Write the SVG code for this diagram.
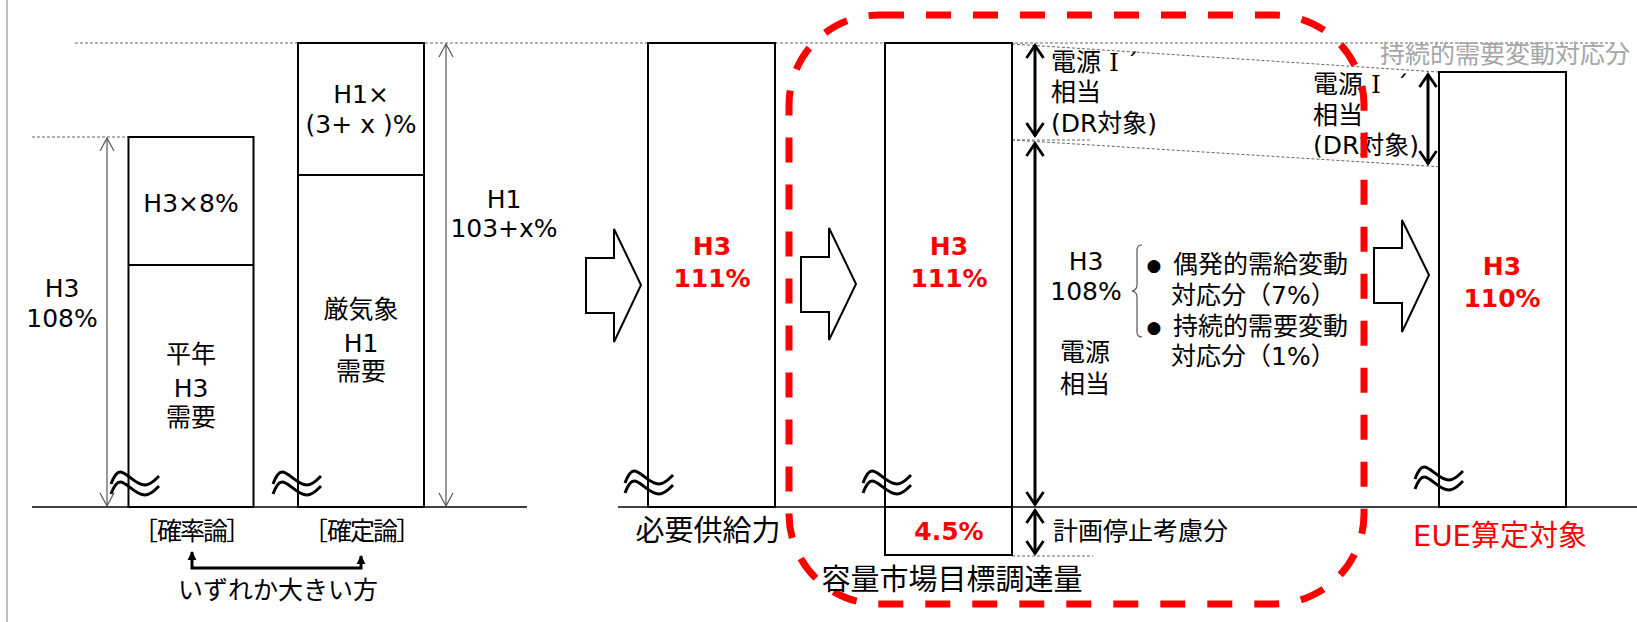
<svg xmlns="http://www.w3.org/2000/svg" xmlns:xlink="http://www.w3.org/1999/xlink" width="1637" height="622" viewBox="0 0 1637 622">
<style>
.t{font-family:"DejaVu Sans","Noto Sans CJK JP",sans-serif;font-size:25px;fill:#000;text-anchor:middle}
.s{text-anchor:start}
.r{fill:#f00;font-weight:bold}
.j{font-family:"Noto Sans CJK JP",sans-serif}
.rn{font-family:"DejaVu Serif","Noto Serif CJK JP","Noto Sans CJK JP",serif}
.big{font-size:29px}
.bul{font-family:"DejaVu Sans",sans-serif;font-size:17px;fill:#000;text-anchor:middle}
.box{fill:#fff;stroke:#000;stroke-width:2}
.dash{stroke:#666;stroke-width:1;stroke-dasharray:3 2;fill:none}
.thin{stroke:#555;stroke-width:1.2;fill:none}
.thick{stroke:#000;stroke-width:3;fill:none}
.blk{fill:#fff;stroke:#000;stroke-width:2;stroke-linejoin:miter}
.base{stroke:#000;stroke-width:1.5}
</style>
<defs>
<marker id="mv" viewBox="0 0 16 16" refX="14" refY="8" markerWidth="16" markerHeight="16" markerUnits="userSpaceOnUse" orient="auto-start-reverse">
<path d="M1,1 L14,8 L1,15" fill="none" stroke="#555" stroke-width="1.2"/>
</marker>
<marker id="mc" viewBox="0 0 16 20" refX="14" refY="10" markerWidth="16" markerHeight="20" markerUnits="userSpaceOnUse" orient="auto-start-reverse">
<path d="M1,1.5 L13.5,10 L1,18.5" fill="none" stroke="#000" stroke-width="2.8"/>
</marker>
<marker id="mf" viewBox="0 0 10 10" refX="9" refY="5" markerWidth="9" markerHeight="10" markerUnits="userSpaceOnUse" orient="auto">
<path d="M0,0 L10,5 L0,10 Z" fill="#000"/>
</marker>
<path id="wv" d="M0,12 C3,4 6,0 9,0 C16,0 24,13 34,13 C40,13 44,8 48,4 M0,22 C3,14 6,10 9,10 C16,10 24,23 34,23 C40,23 44,18 48,14" fill="none" stroke="#000" stroke-width="3"/>
</defs>
<rect width="1637" height="622" fill="#fff"/>
<line x1="7" y1="0" x2="7" y2="622" stroke="#c0c0c0" stroke-width="2"/>

<g id="guides">
<line class="dash" x1="75" y1="43" x2="1613" y2="43"/>
<line class="dash" x1="32" y1="137" x2="128" y2="137"/>
<line class="dash" x1="1012" y1="140" x2="1091" y2="140"/>
<line class="dash" x1="1012" y1="44" x2="1438" y2="72"/>
<line class="dash" x1="1012" y1="140" x2="1443" y2="167"/>
<line class="dash" x1="1012" y1="556" x2="1093" y2="556" stroke-dasharray="2 2"/>
<line class="base" x1="32" y1="507" x2="527" y2="507"/>
<line class="base" x1="618" y1="507" x2="1637" y2="507"/>
</g>

<g id="node-heinen">
<rect class="box" x="128.5" y="137" width="125" height="370"/>
<line x1="128.5" y1="265" x2="253.5" y2="265" stroke="#000" stroke-width="2"/>
<text class="t" x="191" y="212">H3×8%</text>
<text class="t" x="191" y="363">平年</text>
<text class="t" x="191" y="397">H3</text>
<text class="t" x="191" y="426">需要</text>
<use href="#wv" x="111" y="472"/>
</g>

<g id="node-genkisho">
<rect class="box" x="298" y="43" width="126" height="464"/>
<line x1="298" y1="175" x2="424" y2="175" stroke="#000" stroke-width="2"/>
<text class="t" x="361" y="103">H1×</text>
<text class="t" x="361" y="133">(3+ x )%</text>
<text class="t" x="361" y="318">厳気象</text>
<text class="t" x="361" y="352">H1</text>
<text class="t" x="361" y="380">需要</text>
<use href="#wv" x="273" y="472"/>
</g>

<g id="node-left-labels">
<text class="t" x="62" y="297">H3</text>
<text class="t" x="62" y="327">108%</text>
<text class="t" x="504" y="208">H1</text>
<text class="t" x="504" y="237">103+x%</text>
<text class="t s" x="133 157 180 203 226" y="540">［確率論］</text>
<text class="t s" x="303 327 350 373 396" y="540">［確定論］</text>
<text class="t" x="278" y="599">いずれか大きい方</text>
</g>

<g id="node-hitsuyo">
<rect class="box" x="648" y="43" width="127" height="464"/>
<text class="t r" x="712" y="255">H3</text>
<text class="t r" x="712" y="287">111%</text>
<use href="#wv" x="625" y="471"/>
<text class="t big" x="708" y="541">必要供給力</text>
</g>

<g id="node-yoryo">
<rect class="box" x="885" y="43" width="127" height="464"/>
<text class="t r" x="949" y="255">H3</text>
<text class="t r" x="949" y="287">111%</text>
<use href="#wv" x="863" y="471"/>
</g>

<g id="node-keikaku">
<rect class="box" x="885" y="507" width="127" height="48"/>
<text class="t r" x="949" y="540">4.5%</text>
<text class="t s" x="1053" y="540">計画停止考慮分</text>
</g>

<g id="node-dengen">
<text class="t s" x="1051" y="71">電源 <tspan class="rn">Ⅰ</tspan><tspan x="1126">´</tspan></text>
<text class="t s" x="1051" y="101">相当</text>
<text class="t s" x="1051" y="132">(DR対象)</text>
<text class="t" x="1086" y="270">H3</text>
<text class="t" x="1086" y="300">108%</text>
<text class="t" x="1085" y="361">電源</text>
<text class="t" x="1085" y="393">相当</text>
<path d="M1142,245 Q1137,245 1137,250 L1137,285 Q1137,290 1132,291 Q1137,292 1137,297 L1137,332 Q1137,337 1142,337" class="thin"/>
<text class="bul" x="1154" y="271">●</text>
<text class="t s" x="1173" y="273">偶発的需給変動</text>
<text class="t s" x="1171" y="304">対応分（7%）</text>
<text class="bul" x="1154" y="333">●</text>
<text class="t s" x="1173" y="335">持続的需要変動</text>
<text class="t s" x="1171" y="365">対応分（1%）</text>
</g>

<g id="node-eue">
<rect class="box" x="1439" y="72" width="127" height="435"/>
<text class="t r" x="1502" y="275">H3</text>
<text class="t r" x="1502" y="307">110%</text>
<use href="#wv" x="1415" y="467"/>
<text class="t s" x="1313" y="93">電源 <tspan class="rn">Ⅰ</tspan><tspan x="1396">´</tspan></text>
<text class="t s" x="1313" y="124">相当</text>
<text class="t s" x="1313" y="154">(DR対象)</text>
<text class="t s j" x="1380" y="63" style="fill:#a6a6a6">持続的需要変動対応分</text>
<text class="t big" x="1500" y="546" style="fill:#f00">EUE算定対象</text>
</g>

<g id="connectors">
<line class="thin" x1="107" y1="138" x2="107" y2="506" marker-start="url(#mv)" marker-end="url(#mv)"/>
<line class="thin" x1="446" y1="44" x2="446" y2="506" marker-start="url(#mv)" marker-end="url(#mv)"/>
<path class="thick" d="M192,556 L192,568 L361,568 L361,556" marker-end="url(#mf)"/>
<line x1="192" y1="560" x2="192" y2="552" stroke="#000" stroke-width="3" marker-end="url(#mf)"/>
<polygon class="blk" points="586,258 614,258 614,229 641,285 614,342 614,313 586,313"/>
<polygon class="blk" points="801,257 829,257 829,228 856,284 829,340 829,312 801,312"/>
<polygon class="blk" points="1374,248 1402,248 1402,220 1429,275 1402,332 1402,303 1374,303"/>
<line class="thick" x1="1035" y1="45" x2="1035" y2="136" marker-start="url(#mc)" marker-end="url(#mc)"/>
<line class="thick" x1="1035" y1="143" x2="1035" y2="505" marker-start="url(#mc)" marker-end="url(#mc)"/>
<line class="thick" x1="1035" y1="510" x2="1035" y2="554" marker-start="url(#mc)" marker-end="url(#mc)"/>
<line class="thick" x1="1428" y1="74" x2="1428" y2="164" stroke-width="2.5" marker-start="url(#mc)" marker-end="url(#mc)"/>
</g>

<g id="node-target-area">
<rect x="789" y="15" width="575" height="589" rx="90" fill="none" stroke="#f00" stroke-width="7" stroke-dasharray="25 22"/>
<text class="t big" x="952" y="590">容量市場目標調達量</text>
</g>
</svg>
